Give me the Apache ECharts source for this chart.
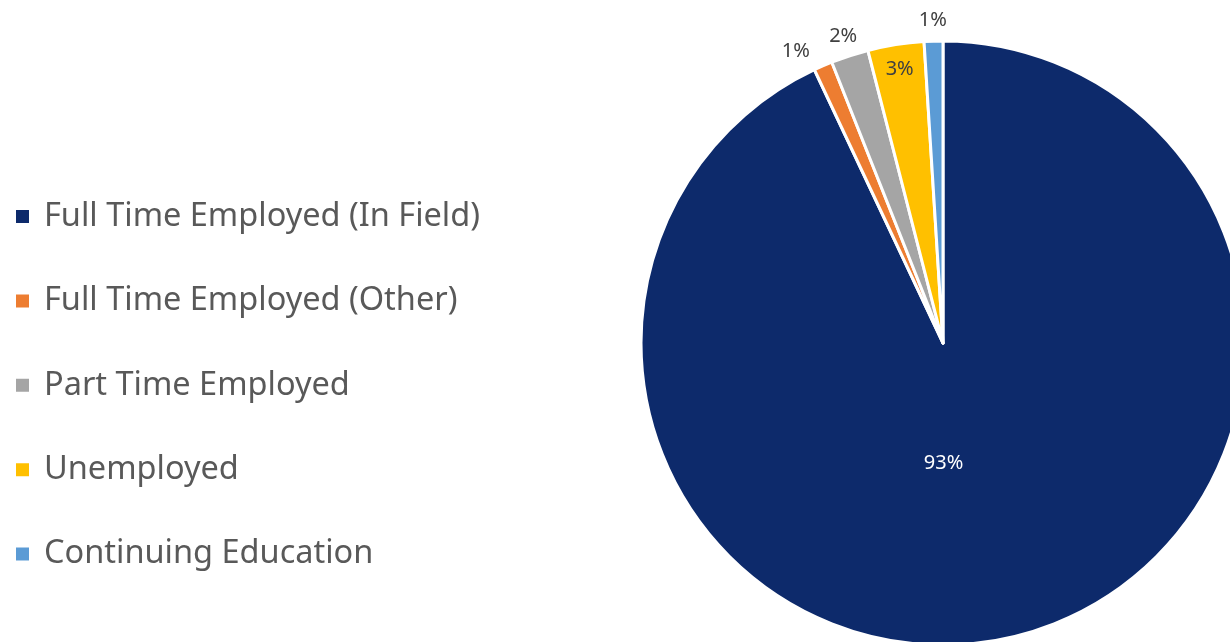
<!DOCTYPE html>
<html><head><meta charset="utf-8">
<script src="https://cdn.jsdelivr.net/npm/echarts@6/dist/echarts.min.js"></script>
<style>html,body{margin:0;padding:0;background:#fff}#c{width:1230px;height:642px}</style>
</head><body><div id="c"></div>
<script>
const categories = ['Full Time Employed (In Field)','Full Time Employed (Other)','Part Time Employed','Unemployed','Continuing Education'];
const values = [93, 1, 2, 3, 1];
const colors = ['#0D2A6B','#ED7D31','#A5A5A5','#FFC000','#5B9BD5'];
// which label style each slice uses: 'main' (inside, large), 'rim' (inside near edge), 'out' (outside)
const labelKind = ['main','out','out','rim','out'];

const chart = echarts.init(document.getElementById('c'));
const FONT = 'Noto Sans';
const center = [943, 343];
const R = 302;

function ringData(kind) {
  return categories.map((name, i) => ({
    name, value: values[i],
    label: { show: labelKind[i] === kind, offset: i === 1 ? [-19, 5] : [0, 0] }
  }));
}
const hiddenBase = {
  type: 'pie', center, startAngle: 90, clockwise: true, silent: true,
  avoidLabelOverlap: false, legendHoverLink: false,
  itemStyle: { color: 'rgba(0,0,0,0)', borderWidth: 0 },
  labelLine: { show: false },
  emphasis: { disabled: true },
  tooltip: { show: false }
};

chart.setOption({
  animation: false,
  color: colors,
  legend: {
    orient: 'vertical', left: 14, top: 200, padding: 0,
    icon: 'rect', itemWidth: 15, itemHeight: 15, itemGap: 51.4,
    data: categories,
    textStyle: { fontFamily: FONT, fontSize: 32.5, color: '#595959', lineHeight: 30, padding: [0,0,0,9] },
    selectedMode: false
  },
  series: [
    {
      type: 'pie', name: 'main', center, radius: R, startAngle: 90, clockwise: true,
      avoidLabelOverlap: false,
      itemStyle: { borderColor: '#fff', borderWidth: 3 },
      label: { show: false },
      labelLine: { show: false },
      data: categories.map((name, i) => ({
        name, value: values[i],
        label: labelKind[i] === 'main' ? {
          show: true, position: 'inside', offset: [-33, -30],
          formatter: '{d}%', fontFamily: FONT, fontSize: 20, color: '#FFFFFF'
        } : { show: false }
      }))
    },
    Object.assign({}, hiddenBase, {
      name: 'rim', radius: [0, 548],
      label: { position: 'inside', formatter: '{c}%', fontFamily: FONT, fontSize: 20, color: '#404040' },
      data: ringData('rim')
    }),
    Object.assign({}, hiddenBase, {
      name: 'out', radius: [0, 640],
      label: { position: 'inside', formatter: '{c}%', fontFamily: FONT, fontSize: 20, color: '#404040' },
      data: ringData('out')
    })
  ]
});
</script></body></html>
